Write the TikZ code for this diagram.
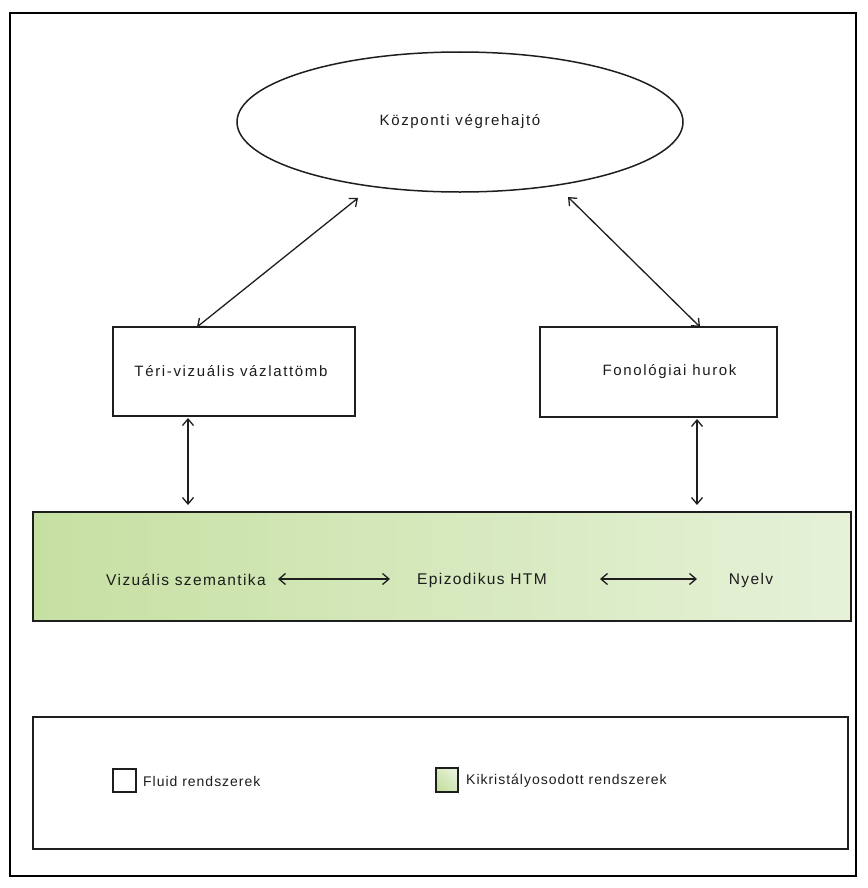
\documentclass[tikz,border=0pt]{standalone}
\usepackage{fontspec}
\setmainfont{Liberation Sans}
\newfontfamily\boxfont[LetterSpace=11]{Liberation Sans}
\newfontfamily\greenfont[LetterSpace=9]{Liberation Sans}
\newfontfamily\legfont[LetterSpace=7]{Liberation Sans}
\usetikzlibrary{shapes.geometric,arrows.meta,calc}
\definecolor{linec}{RGB}{30,30,30}
\definecolor{textc}{RGB}{28,28,28}
\definecolor{gleft}{RGB}{198,224,162}
\definecolor{gright}{RGB}{230,241,216}
\begin{document}
\begin{tikzpicture}[x=1bp,y=-1bp,
  boxstyle/.style={draw=linec,line width=1.5bp,rectangle,inner sep=0pt,text=textc,font=\boxfont\fontsize{15bp}{18bp}\selectfont},
  greenbox/.style={draw=linec,line width=1.5bp,rectangle,inner sep=0pt,left color=gleft,right color=gright},
  gtext/.style={inner sep=0pt,text=textc,font=\greenfont\fontsize{15.5bp}{18bp}\selectfont},
  legtext/.style={inner sep=0pt,text=textc,anchor=west,font=\legfont\fontsize{14bp}{17bp}\selectfont},
  biarrow/.style={draw=linec,line width=1.3bp,{Straight Barb[length=6.5bp,width=11bp]}-{Straight Barb[length=6.5bp,width=11bp]}}
]
\useasboundingbox (0,0) rectangle (868,888);
% outer frame
\node[draw=black,line width=2bp,rectangle,inner sep=0pt,minimum width=846bp,minimum height=863bp] (frame) at (433,444.5) {};
% ellipse
\node[draw=linec,line width=1.5bp,ellipse,inner sep=0pt,minimum width=446bp,minimum height=140bp,text=textc,font=\boxfont\fontsize{15bp}{18bp}\selectfont] (ce) at (460,122) {Központi végrehajtó};
% boxes
\node[boxstyle,minimum width=242bp,minimum height=89bp] (lbox) at (234,371.5) {\hspace*{-6bp}Téri-vizuális vázlattömb};
\node[boxstyle,minimum width=237bp,minimum height=90bp] (rbox) at (658.5,372) {\hspace*{22bp}Fonológiai hurok};
% green box
\node[greenbox,minimum width=818bp,minimum height=109bp] (gbox) at (442,566.5) {};
\node[gtext] (vs) at (186,580) {Vizuális szemantika};
\node[gtext] (ep) at (482,580) {Epizodikus HTM};
\node[gtext] (ny) at (751,580) {Nyelv};
% legend
\node[draw=linec,line width=1.5bp,rectangle,inner sep=0pt,minimum width=815bp,minimum height=132bp] (leg) at (440.5,783) {};
\node[draw=linec,line width=1.3bp,rectangle,inner sep=0pt,minimum width=23bp,minimum height=23bp,fill=white] (sqw) at (124.5,780.5) {};
\node[legtext] (lw) at (143,781) {Fluid rendszerek};
\node[draw=linec,line width=1.3bp,rectangle,inner sep=0pt,minimum width=22bp,minimum height=24bp,left color=gleft,right color=gright,shading angle=135] (sqg) at (447,780) {};
\node[legtext] (lg) at (466,781) {Kikristályosodott rendszerek};
% connector end points
\coordinate (c1) at (358,198);
\coordinate (l1) at (197,327);
\coordinate (c2) at (568,197);
\coordinate (r1) at (700,327);
\coordinate (l2a) at (188,418);
\coordinate (l2b) at (188,505);
\coordinate (r2a) at (697,419);
\coordinate (r2b) at (697,505);
\coordinate (g1a) at (278,579);
\coordinate (g1b) at (390,579);
\coordinate (g2a) at (600,579);
\coordinate (g2b) at (697,579);
% connectors
\draw[biarrow] (l1) -- (c1);
\draw[biarrow] (r1) -- (c2);
\draw[biarrow] (l2a) -- (l2b);
\draw[biarrow] (r2a) -- (r2b);
\draw[biarrow] (g1a) -- (g1b);
\draw[biarrow] (g2a) -- (g2b);
\end{tikzpicture}
\end{document}
